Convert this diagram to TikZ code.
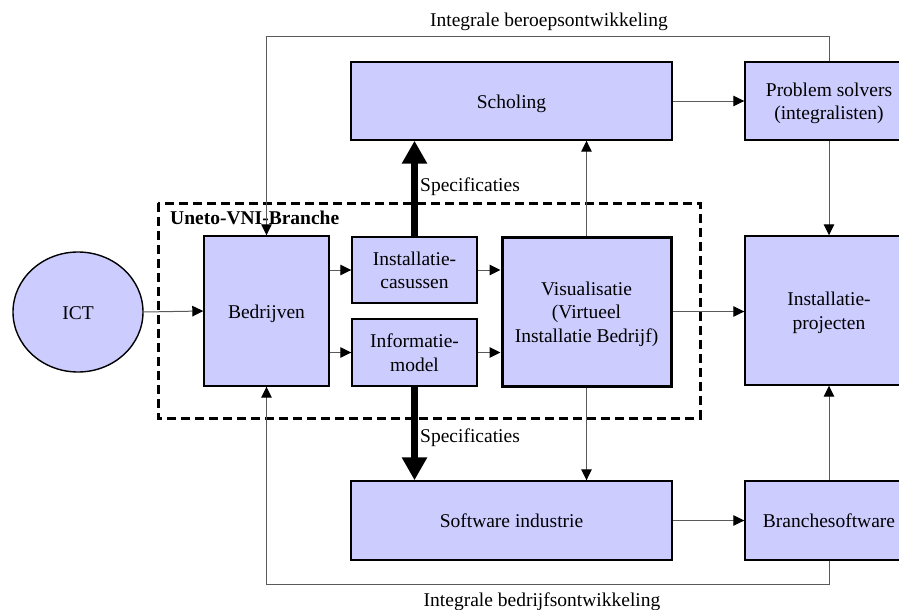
\documentclass[tikz,border=0pt]{standalone}
\usepackage{fontspec}
\setmainfont{Liberation Serif}
\usetikzlibrary{arrows.meta,calc,shapes.geometric}
\definecolor{boxfill}{HTML}{CCCCFF}
\definecolor{connc}{HTML}{5A5A5A}
\newcommand\bt[1]{\raisebox{0pt}[\dimexpr\height+5pt\relax][\depth]{\begin{tabular}{@{}c@{}}#1\end{tabular}}}
\begin{document}
\begin{tikzpicture}[x=1pt,y=-1pt,
  txt/.style={font=\fontsize{19.5}{23.5}\selectfont},
  box/.style={txt, draw=black, line width=1.4pt, fill=boxfill, inner sep=0pt},
  conn/.style={draw=connc, line width=1pt, -{Triangle[length=11pt,width=10.5pt,color=black]}},
  bigarrow/.style={draw=black, line width=7pt, -{Triangle[length=23pt,width=24pt]}},
  group/.style={draw=black, line width=3pt, dash pattern=on 9pt off 5pt}
]
\useasboundingbox (0,0) rectangle (899,610);

% group frame
\draw[group] (158,203) rectangle (700,418);
\node[txt, font=\fontsize{19.5}{23.5}\selectfont\bfseries, anchor=west, inner sep=0pt] (uneto) at (170,218) {Uneto-VNI-Branche};

% nodes
\node[box, ellipse, minimum width=130, minimum height=120] (ict) at (78,312) {\bt{ICT}};
\node[box, minimum width=125, minimum height=150] (bed) at (266.5,311) {\bt{Bedrijven}};
\node[box, minimum width=125, minimum height=66] (cas) at (414.5,270) {\bt{Installatie-\\casussen}};
\node[box, minimum width=125, minimum height=67] (inf) at (414.5,352.5) {\bt{Informatie-\\model}};
\node[box, line width=3pt, minimum width=169, minimum height=149] (vis) at (586.5,311.5) {\bt{Visualisatie\\(Virtueel\\Installatie Bedrijf)}};
\node[box, minimum width=321, minimum height=78] (sch) at (511.5,101) {\bt{Scholing}};
\node[box, minimum width=321, minimum height=79] (sw) at (511.5,520.5) {\bt{Software industrie}};
\node[box, minimum width=168, minimum height=78] (ps) at (829,101) {\bt{Problem solvers\\(integralisten)}};
\node[box, minimum width=168, minimum height=149] (ip) at (829,310.5) {\bt{Installatie-\\projecten}};
\node[box, minimum width=168, minimum height=79] (bs) at (829,520.5) {\bt{Branchesoftware}};

% labels
\node[txt, inner sep=0pt] (lbtop) at (549,22) {Integrale beroepsontwikkeling};
\node[txt, inner sep=0pt] (lbbot) at (542,602) {Integrale bedrijfsontwikkeling};
\node[txt, inner sep=0pt, anchor=west] (spec1) at (420,187) {Specificaties};
\node[txt, inner sep=0pt, anchor=west] (spec2) at (420,438) {Specificaties};

% connectors
\draw[conn] (ict.east) -- (bed.west);
\draw[conn] (bed.east |- cas.west) -- (cas.west);
\draw[conn] (bed.east |- inf.west) -- (inf.west);
\draw[conn] (cas.east) -- (cas.east -| vis.west);
\draw[conn] (inf.east) -- (inf.east -| vis.west);
\draw[conn] (vis.east) -- (vis.east -| ip.west);
\draw[conn] (vis.north) -- (vis.north |- sch.south);
\draw[conn] (vis.south) -- (vis.south |- sw.north);
\draw[conn] (sch.east |- ps.west) -- (ps.west);
\draw[conn] (ps.south) -- (ip.north);
\draw[conn] (bs.north) -- (ip.south);
\draw[conn] (sw.east |- bs.west) -- (bs.west);

\draw[bigarrow] (cas.north) -- (cas.north |- sch.south);
\draw[bigarrow] (inf.south) -- (inf.south |- sw.north);

\coordinate (topy) at (0,37);
\coordinate (boty) at (0,584);
\draw[conn] (ps.north) |- (topy -| bed.north) -- (bed.north);
\draw[conn] (bs.south) |- (boty -| bed.south) -- (bed.south);
\end{tikzpicture}
\end{document}
